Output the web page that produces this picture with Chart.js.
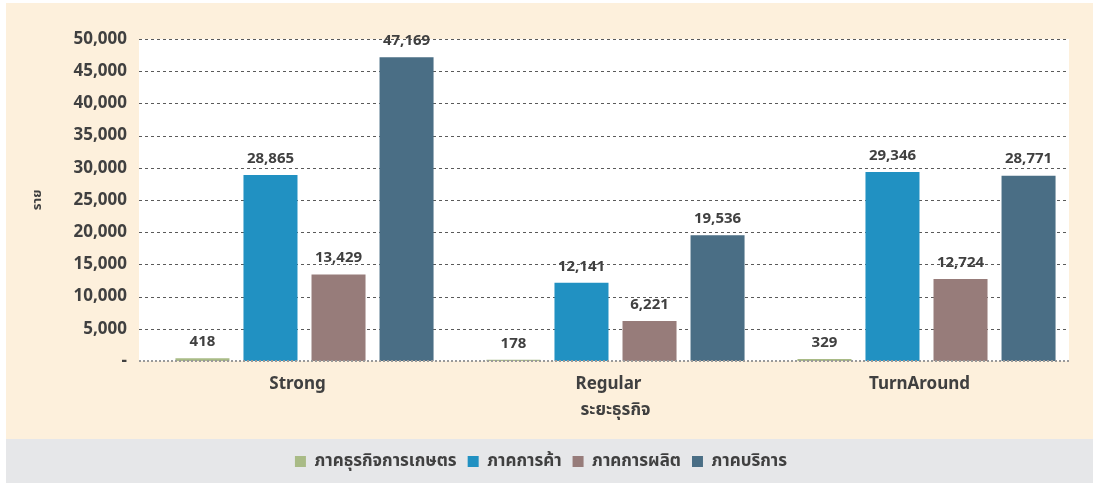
<!DOCTYPE html>
<html lang="th">
<head>
<meta charset="utf-8">
<title>ระยะธุรกิจ</title>
<script src="https://cdn.jsdelivr.net/npm/chart.js@4.4.1/dist/chart.umd.min.js"></script>
<style>
    html, body { margin: 0; padding: 0; background: #ffffff; }
    #frame { position: relative; width: 1093px; height: 483px; overflow: hidden; }
    #cream { position: absolute; left: 6px; top: 3px; right: 0; height: 436px; background: #fdf0dc; }
    #band { position: absolute; left: 6px; top: 439px; right: 0; bottom: 0; background: #e6e7e9; }
    #chart-box { position: absolute; left: 0; top: 0; width: 1093px; height: 483px; }
</style>
</head>
<body>
<div id="frame">
    <div id="cream"></div>
    <div id="band"></div>
    <div id="chart-box"><canvas id="sector-chart"></canvas></div>
</div>
<script>
// ----------------------------------------------------------------------
// データ
// ----------------------------------------------------------------------
const categories = ['Strong', 'Regular', 'TurnAround'];
const seriesNames = ['ภาคธุรกิจการเกษตร', 'ภาคการค้า', 'ภาคการผลิต', 'ภาคบริการ'];
const agriValues = [418, 178, 329];
const tradeValues = [28865, 12141, 29346];
const manufValues = [13429, 6221, 12724];
const serviceValues = [47169, 19536, 28771];
const yTicks = [0, 5000, 10000, 15000, 20000, 25000, 30000, 35000, 40000, 45000, 50000];

const seriesColors = ['#a9bb86', '#2191c2', '#977c7a', '#4a6e85'];
const textColor = '#404040';
const fontFamily = '"Noto Sans", "Noto Sans Thai", "Open Sans", sans-serif';

// レイアウト (ページ座標)
const PLOT_TOP = 38;
const PLOT_BOTTOM = 361;
const PLOT_LEFT = 149;      // バーの配置用
const PANEL_LEFT = 139;     // 白いパネル / グリッド
const PANEL_RIGHT = 1069;
const CANVAS_H = 483;
const PAD_BOTTOM = 3;

const fmt = v => v.toLocaleString('en-US');

// 白いパネルと点線グリッド
const panelPlugin = {
    id: 'panel',
    beforeDatasetsDraw(chart) {
        const { ctx, chartArea, scales: { y } } = chart;
        ctx.save();
        ctx.fillStyle = '#ffffff';
        ctx.fillRect(PANEL_LEFT, chartArea.top, PANEL_RIGHT - PANEL_LEFT, chartArea.bottom - chartArea.top);
        ctx.strokeStyle = '#5a5a5a';
        ctx.lineWidth = 1;
        ctx.setLineDash([3, 3]);
        yTicks.forEach(t => {
            if (t === 0) return;
            const py = Math.round(y.getPixelForValue(t)) + 0.5;
            ctx.beginPath();
            ctx.moveTo(PANEL_LEFT, py);
            ctx.lineTo(PANEL_RIGHT, py);
            ctx.stroke();
        });
        ctx.restore();
    },
    afterDatasetsDraw(chart) {
        const { ctx, scales: { y } } = chart;
        ctx.save();
        // ゼロ線 (バーの上に描く)
        const py = Math.round(y.getPixelForValue(0));
        ctx.strokeStyle = '#9a9a9a';
        ctx.lineWidth = 2;
        ctx.setLineDash([2, 2]);
        ctx.beginPath();
        ctx.moveTo(PANEL_LEFT, py);
        ctx.lineTo(PANEL_RIGHT, py);
        ctx.stroke();
        ctx.setLineDash([]);

        // データラベル
        ctx.fillStyle = textColor;
        ctx.font = 'bold 15px ' + fontFamily;
        ctx.textAlign = 'center';
        ctx.textBaseline = 'bottom';
        chart.data.datasets.forEach((ds, i) => {
            const meta = chart.getDatasetMeta(i);
            meta.data.forEach((bar, j) => {
                ctx.fillText(fmt(ds.data[j]), bar.x, bar.y - 9);
            });
        });
        ctx.restore();
    }
};

const ctx = document.getElementById('sector-chart').getContext('2d');
new Chart(ctx, {
    type: 'bar',
    data: {
        labels: categories,
        datasets: [agriValues, tradeValues, manufValues, serviceValues].map((vals, i) => ({
            label: seriesNames[i],
            data: vals,
            backgroundColor: seriesColors[i],
            borderWidth: 0,
            categoryPercentage: 0.875,
            barPercentage: 0.794
        }))
    },
    options: {
        responsive: true,
        maintainAspectRatio: false,
        animation: false,
        layout: { padding: { top: PLOT_TOP + 1, right: 11, bottom: PAD_BOTTOM, left: 0 } },
        scales: {
            x: {
                grid: { display: false },
                border: { display: false },
                ticks: {
                    color: textColor,
                    font: { family: fontFamily, size: 17, weight: 'bold' },
                    padding: 5,
                    labelOffset: -7
                },
                title: {
                    display: true,
                    text: 'ระยะธุรกิจ',
                    color: textColor,
                    font: { family: fontFamily, size: 17, weight: 'bold' },
                    padding: { top: 0, bottom: 22 }
                },
                afterFit(scale) {
                    scale.height = CANVAS_H - PLOT_BOTTOM - PAD_BOTTOM - scale.chart.legend.height;
                }
            },
            y: {
                min: 0,
                max: 50000,
                grid: { display: false },
                border: { display: false },
                ticks: {
                    stepSize: 5000,
                    color: textColor,
                    font: { family: fontFamily, size: 17, weight: 'bold' },
                    padding: 14,
                    callback: v => (v === 0 ? '-' : fmt(v))
                },
                title: {
                    display: true,
                    text: 'ราย',
                    color: textColor,
                    font: { family: fontFamily, size: 13, weight: 'bold' },
                    padding: { top: 29, bottom: 0 }
                },
                afterFit(scale) {
                    scale.width = PLOT_LEFT;
                }
            }
        },
        plugins: {
            legend: {
                position: 'bottom',
                labels: {
                    color: textColor,
                    font: { family: fontFamily, size: 17, weight: 'bold' },
                    boxWidth: 11,
                    boxHeight: 11,
                    padding: 11
                }
            },
            tooltip: { enabled: false }
        }
    },
    plugins: [panelPlugin]
});
</script>
</body>
</html>
